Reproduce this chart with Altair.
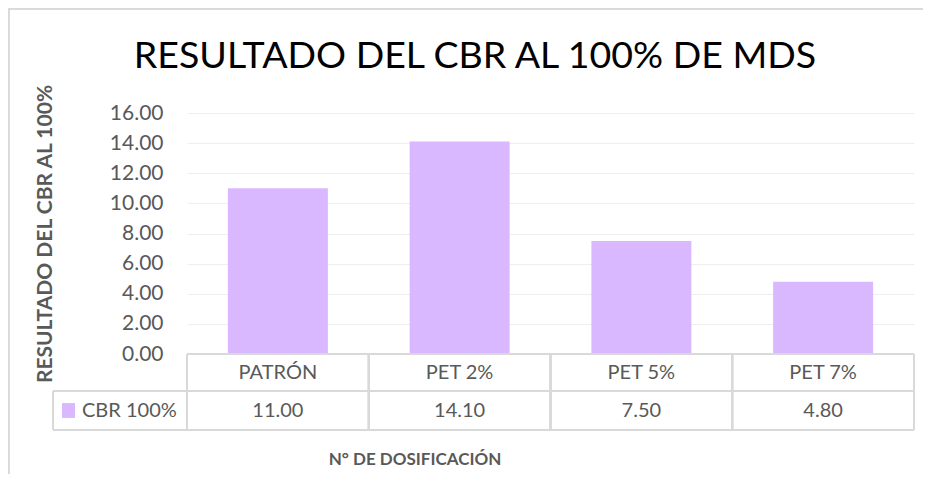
import altair as alt
import pandas as pd

categories = ["PATRÓN", "PET 2%", "PET 5%", "PET 7%"]
values = [11.00, 14.10, 7.50, 4.80]
series_name = "CBR 100%"
y_ticks = [0, 2, 4, 6, 8, 10, 12, 14, 16]
title_text = "RESULTADO DEL CBR AL 100% DE MDS"
y_title = "RESULTADO DEL CBR AL 100%"
x_title = "N° DE DOSIFICACIÓN"

df = pd.DataFrame({"cat": categories, "val": values})

W, H = 727, 241
FONT = "Lato"
GREY = "#595959"
LINE = "#D9D9D9"
BAR = "#D9B8FF"
step = W / len(categories)
row1_y, row2_y = H + 18.5, H + 56.5
line_y = [H, H + 37, H + 76]
legend_left = -134

xenc = alt.X("cat:N", sort=categories,
             scale=alt.Scale(domain=categories, paddingInner=0, paddingOuter=0),
             axis=None)

base = alt.Chart(df)

bars = base.mark_bar(color=BAR, width=alt.RelativeBandSize(0.55)).encode(
    x=xenc,
    y=alt.Y("val:Q", scale=alt.Scale(domain=[0, 16], nice=False),
            axis=alt.Axis(values=y_ticks, format=".2f", grid=True,
                          gridColor="#EEEEEE", gridWidth=1, domain=False,
                          ticks=False, tickSize=0, labelFont=FONT,
                          labelFontSize=21, labelColor=GREY, labelPadding=24,
                          title=y_title, titleFont=FONT, titleFontSize=21,
                          titleFontWeight="bold", titleColor=GREY,
                          titlePadding=54)),
)

row1 = base.mark_text(font=FONT, fontSize=20, color=GREY, baseline="middle").encode(
    x=xenc, y=alt.value(row1_y), text="cat:N")
row2 = base.mark_text(font=FONT, fontSize=20, color=GREY, baseline="middle").encode(
    x=xenc, y=alt.value(row2_y), text=alt.Text("val:Q", format=".2f"))


def hline(x1, x2, y):
    return alt.Chart(df).mark_rule(color=LINE, strokeWidth=2).encode(
        x=alt.value(x1), x2=alt.value(x2), y=alt.value(y))


def vline(x, y1, y2):
    return alt.Chart(df).mark_rule(color=LINE, strokeWidth=2).encode(
        x=alt.value(x), y=alt.value(y1), y2=alt.value(y2))


rules = [hline(0, W, line_y[0]), hline(legend_left, W, line_y[1]),
         hline(legend_left, W, line_y[2]), vline(legend_left, line_y[1], line_y[2])]
for i in range(len(categories) + 1):
    rules.append(vline(i * step, line_y[0], line_y[2]))

swatch = alt.Chart(df).mark_rect(color=BAR).encode(
    x=alt.value(-125), x2=alt.value(-112), y=alt.value(row2_y - 7), y2=alt.value(row2_y + 7))
legend_text = alt.Chart(pd.DataFrame({"s": [series_name]})).mark_text(
    font=FONT, fontSize=20, color=GREY, align="left", baseline="middle").encode(
    x=alt.value(-105), y=alt.value(row2_y), text="s:N")

xt = alt.Chart(pd.DataFrame({"s": [x_title]})).mark_text(
    font=FONT, fontSize=17, fontWeight="bold", color=GREY, baseline="middle").encode(
    x=alt.value(228), y=alt.value(347), text="s:N")

tt = alt.Chart(pd.DataFrame({"s": [title_text]})).mark_text(
    font=FONT, fontSize=37.5, color="#000000", baseline="alphabetic").encode(
    x=alt.value(288), y=alt.value(-44.7), text="s:N")

border = [hline(-179, W + 9, -104.5), vline(-178.5, -105, H + 120)]

chart = alt.layer(*border, bars, *rules, row1, row2, swatch, legend_text, xt, tt).properties(
    width=W, height=H,
    autosize=alt.AutoSizeParams(type="none"),
    padding={"left": 179, "top": 105, "right": 9, "bottom": 120},
    background="white",
).configure_view(stroke=None)

chart.save("out.html", embed_options={"renderer": "svg", "actions": False})
